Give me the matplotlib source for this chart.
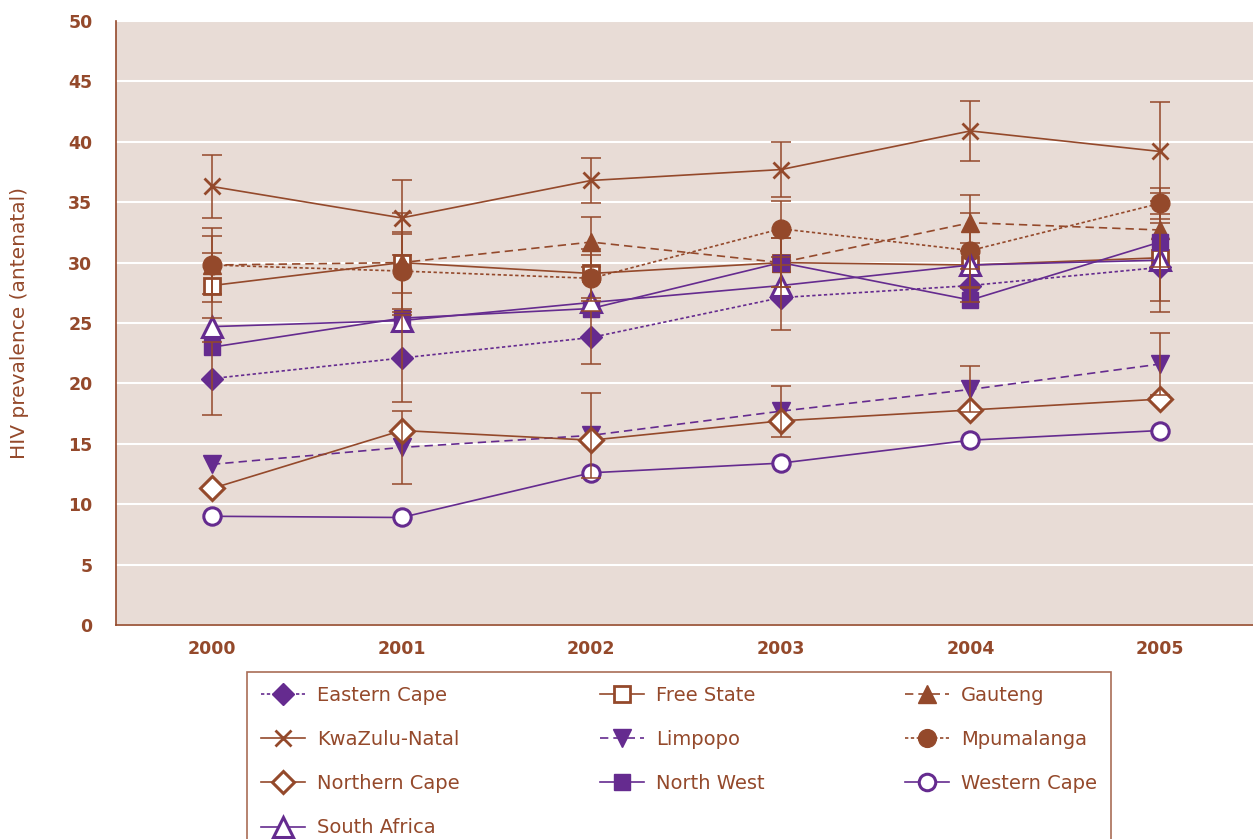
import numpy as np
import matplotlib
matplotlib.use('Agg')
from matplotlib import pyplot as plt

years = [2000, 2001, 2002, 2003, 2004, 2005]

eastern_cape = [20.4, 22.1, 23.8, 27.1, 28.1, 29.6]
free_state = [28.1, 30.0, 29.1, 30.0, 29.8, 30.4]
gauteng = [29.8, 30.0, 31.7, 30.0, 33.3, 32.7]
kwazulu_natal = [36.3, 33.7, 36.8, 37.7, 40.9, 39.2]
limpopo = [13.3, 14.7, 15.7, 17.7, 19.5, 21.6]
mpumalanga = [29.8, 29.3, 28.7, 32.8, 31.0, 34.9]
northern_cape = [11.3, 16.1, 15.3, 16.9, 17.8, 18.7]
north_west = [23.0, 25.4, 26.2, 30.0, 26.9, 31.7]
western_cape = [9.0, 8.9, 12.6, 13.4, 15.3, 16.1]
south_africa = [24.7, 25.2, 26.7, 28.1, 29.8, 30.2]

# error bar half widths (estimated)
err_ec = [3.0, 3.6, 2.2, 2.7, 1.4, 3.7]
err_fs = [2.7, 4.1, 2.0, 2.0, 1.8, 3.6]
err_gt = [2.4, 2.5, 2.1, 2.0, 2.3, 3.1]
err_kzn = [2.6, 3.1, 1.9, 2.3, 2.5, 4.1]
err_lp = [np.nan, 3.0, 3.5, 2.1, 1.9, 2.6]
err_mp = [3.1, 3.1, 1.9, 2.3, 3.1, 1.3]

brown = '#94492b'
purple = '#652b8f'
bg = '#e8dcd6'

fig = plt.figure(figsize=(12.53, 8.39), dpi=100)
ax = fig.add_axes([116/1253, 1-625/839, 1-116/1253, (625-21)/839])
ax.set_facecolor(bg)

# error bars
for vals, err in [(eastern_cape, err_ec), (free_state, err_fs), (gauteng, err_gt),
                  (kwazulu_natal, err_kzn), (limpopo, err_lp), (mpumalanga, err_mp)]:
    ax.errorbar(years, vals, yerr=err, fmt='none', ecolor=brown, elinewidth=1.3,
                capsize=7, capthick=1.3, zorder=5, alpha=0.85)

lw = 1.2
series = {}
series['Eastern Cape'] = ax.plot(years, eastern_cape, color=purple, ls=(0, (2, 1.5)), lw=lw,
                                 marker='D', ms=11.5, mfc=purple, mec=purple, zorder=4)[0]
series['Free State'] = ax.plot(years, free_state, color=brown, ls='-', lw=lw,
                               marker='s', ms=11.5, mfc='white', mec=brown, mew=2, zorder=4)[0]
series['Gauteng'] = ax.plot(years, gauteng, color=brown, ls=(0, (5, 3)), lw=lw,
                            marker='^', ms=13.5, mfc=brown, mec=brown, zorder=4)[0]
series['KwaZulu-Natal'] = ax.plot(years, kwazulu_natal, color=brown, ls='-', lw=lw,
                                  marker='x', ms=12, mec=brown, mew=2, zorder=4)[0]
series['Limpopo'] = ax.plot(years, limpopo, color=purple, ls=(0, (5, 3)), lw=lw,
                            marker='v', ms=13.5, mfc=purple, mec=purple, zorder=4)[0]
series['Mpumalanga'] = ax.plot(years, mpumalanga, color=brown, ls=(0, (2, 1.5)), lw=lw,
                               marker='o', ms=13.5, mfc=brown, mec=brown, zorder=4)[0]
series['Northern Cape'] = ax.plot(years, northern_cape, color=brown, ls='-', lw=lw,
                                  marker='D', ms=12, mfc='white', mec=brown, mew=2.2, zorder=4)[0]
series['North West'] = ax.plot(years, north_west, color=purple, ls='-', lw=lw,
                               marker='s', ms=11.5, mfc=purple, mec=purple, zorder=4)[0]
series['Western Cape'] = ax.plot(years, western_cape, color=purple, ls='-', lw=lw,
                                 marker='o', ms=12.5, mfc='white', mec=purple, mew=2.2, zorder=4)[0]
series['South Africa'] = ax.plot(years, south_africa, color=purple, ls='-', lw=lw,
                                 marker='^', ms=14.5, mfc='white', mec=purple, mew=2.2, zorder=4)[0]

ax.set_xlim(2000 - 96/189.6, 2000 + 1041/189.6)
ax.set_ylim(0, 50)
ax.set_yticks(range(0, 51, 5))
ax.set_xticks(years)
ax.yaxis.grid(True, color='white', lw=1.5)
ax.set_axisbelow(True)
for s in ['top', 'right']:
    ax.spines[s].set_visible(False)
for s in ['left', 'bottom']:
    ax.spines[s].set_color(brown)
    ax.spines[s].set_linewidth(1.2)
ax.tick_params(length=0, colors=brown, labelsize=12.5)
ax.tick_params(axis='x', pad=11)
ax.tick_params(axis='y', pad=17)
for lab in ax.get_xticklabels() + ax.get_yticklabels():
    lab.set_fontweight('bold')
ax.set_ylabel('HIV prevalence (antenatal)', color=brown, fontsize=14.5, labelpad=28)

order = ['Eastern Cape', 'KwaZulu-Natal', 'Northern Cape', 'South Africa',
         'Free State', 'Limpopo', 'North West',
         'Gauteng', 'Mpumalanga', 'Western Cape']
leg = fig.legend([series[k] for k in order], order, loc='upper left',
                 bbox_to_anchor=(247/1253, 1-672/839), borderaxespad=0, ncol=3,
                 frameon=True, fancybox=False, edgecolor=brown, fontsize=14,
                 labelcolor=brown, handlelength=2.3, columnspacing=7.2,
                 labelspacing=1.3, borderpad=0.7, handletextpad=0.6, markerscale=0.95)
leg.get_frame().set_linewidth(1.2)

fig.savefig('out.png', dpi=100)
